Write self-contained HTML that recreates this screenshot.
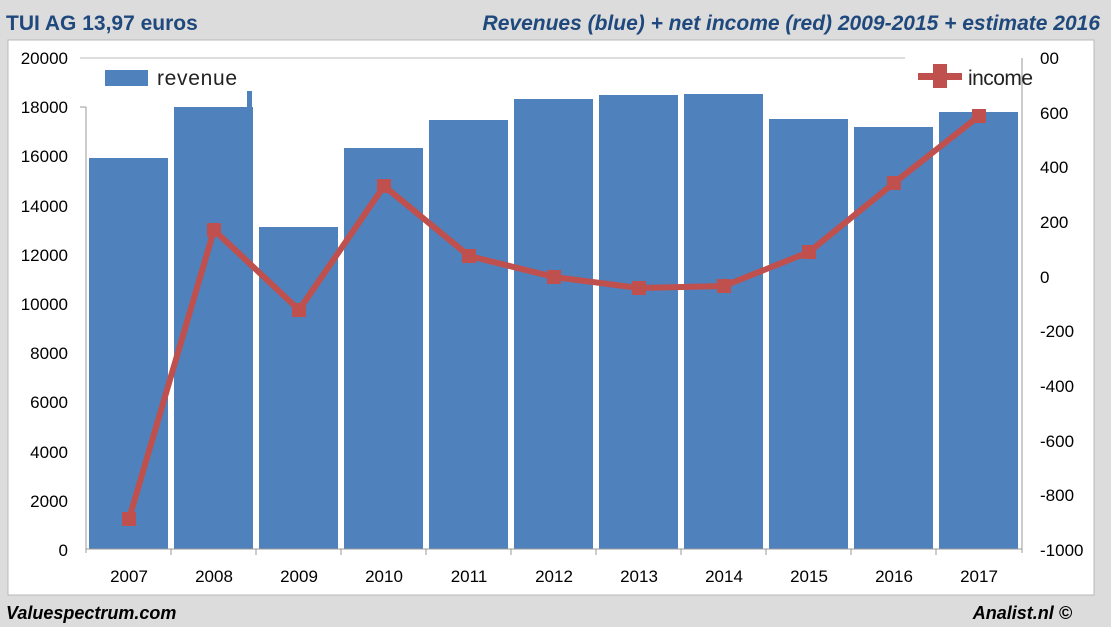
<!DOCTYPE html>
<html><head><meta charset="utf-8"><style>
body{margin:0;width:1111px;height:627px;background:#dcdcdc;overflow:hidden}
svg{display:block}
text{font-family:"Liberation Sans",sans-serif}
</style></head><body>
<svg width="1111" height="627" viewBox="0 0 1111 627">
<rect x="0" y="0" width="1111" height="627" fill="#dcdcdc"/>
<rect x="8" y="40" width="1086" height="555" fill="#fff" stroke="#b8b8b8"/>
<text x="6" y="30" font-size="21" font-weight="bold" fill="#1f497d">TUI AG 13,97 euros</text>
<text x="1100" y="30" font-size="21" font-weight="bold" font-style="italic" fill="#1f497d" text-anchor="end">Revenues (blue) + net income (red) 2009-2015 + estimate 2016</text>
<text x="6" y="619" font-size="18" font-weight="bold" font-style="italic" fill="#000">Valuespectrum.com</text>
<text x="1072" y="619" font-size="18" font-weight="bold" font-style="italic" fill="#000" text-anchor="end">Analist.nl ©</text>
<line x1="80" y1="58" x2="905" y2="58" stroke="#bbb"/>
<g font-size="17" fill="#000" text-anchor="end">
<text x="68" y="64">20000</text><text x="68" y="113">18000</text><text x="68" y="162">16000</text><text x="68" y="212">14000</text><text x="68" y="261">12000</text><text x="68" y="310">10000</text><text x="68" y="359">8000</text><text x="68" y="408">6000</text><text x="68" y="458">4000</text><text x="68" y="507">2000</text><text x="68" y="556">0</text>
</g>
<g font-size="17" fill="#000">
<text x="1040" y="64">00</text><text x="1040" y="119">600</text><text x="1040" y="173">400</text><text x="1040" y="228">200</text><text x="1040" y="283">0</text><text x="1040" y="337">-200</text><text x="1040" y="392">-400</text><text x="1040" y="447">-600</text><text x="1040" y="501">-800</text><text x="1040" y="556">-1000</text>
</g>
<g fill="#4f81bd">
<rect x="89" y="158" width="79" height="391"/>
<rect x="174" y="107" width="79" height="442"/>
<rect x="247" y="91" width="5" height="20"/>
<rect x="259" y="227" width="79" height="322"/>
<rect x="344" y="148" width="79" height="401"/>
<rect x="429" y="120" width="79" height="429"/>
<rect x="514" y="99" width="79" height="450"/>
<rect x="599" y="95" width="79" height="454"/>
<rect x="684" y="94" width="79" height="455"/>
<rect x="769" y="119" width="79" height="430"/>
<rect x="854" y="127" width="79" height="422"/>
<rect x="939" y="112" width="79" height="437"/>
</g>
<line x1="86" y1="549" x2="1022" y2="549" stroke="#999"/>
<line x1="86" y1="107" x2="86" y2="553" stroke="#999"/>
<line x1="80" y1="107" x2="86" y2="107" stroke="#999"/>
<line x1="1022" y1="58" x2="1022" y2="553" stroke="#999"/>
<g stroke="#999"><line x1="171" y1="549" x2="171" y2="555"/><line x1="256" y1="549" x2="256" y2="555"/><line x1="341" y1="549" x2="341" y2="555"/><line x1="426" y1="549" x2="426" y2="555"/><line x1="511" y1="549" x2="511" y2="555"/><line x1="596" y1="549" x2="596" y2="555"/><line x1="681" y1="549" x2="681" y2="555"/><line x1="766" y1="549" x2="766" y2="555"/><line x1="851" y1="549" x2="851" y2="555"/><line x1="936" y1="549" x2="936" y2="555"/></g>
<g font-size="17" fill="#000" text-anchor="middle">
<text x="129" y="582">2007</text><text x="214" y="582">2008</text><text x="299" y="582">2009</text><text x="384" y="582">2010</text><text x="469" y="582">2011</text><text x="554" y="582">2012</text><text x="639" y="582">2013</text><text x="724" y="582">2014</text><text x="809" y="582">2015</text><text x="894" y="582">2016</text><text x="979" y="582">2017</text>
</g>
<polyline points="129,519 214,230 299,310 384,186 469,256 554,277 639,288 724,286 809,252 894,183 979,116" fill="none" stroke="#c0504d" stroke-width="6" stroke-linejoin="round"/>
<g fill="#c0504d">
<rect x="122" y="512" width="14" height="14"/><rect x="207" y="223" width="14" height="14"/><rect x="292" y="303" width="14" height="14"/><rect x="377" y="179" width="14" height="14"/><rect x="462" y="249" width="14" height="14"/><rect x="547" y="270" width="14" height="14"/><rect x="632" y="281" width="14" height="14"/><rect x="717" y="279" width="14" height="14"/><rect x="802" y="245" width="14" height="14"/><rect x="887" y="176" width="14" height="14"/><rect x="972" y="109" width="14" height="14"/>
</g>
<rect x="105" y="70" width="43" height="16" fill="#4f81bd"/>
<text x="157" y="85" font-size="21" fill="#222" textLength="80">revenue</text>
<rect x="918" y="73" width="44" height="7" fill="#c0504d"/>
<rect x="933" y="64" width="14" height="24" fill="#c0504d"/>
<text x="968" y="85" font-size="21" fill="#222" textLength="65">income</text>
</svg>
</body></html>
